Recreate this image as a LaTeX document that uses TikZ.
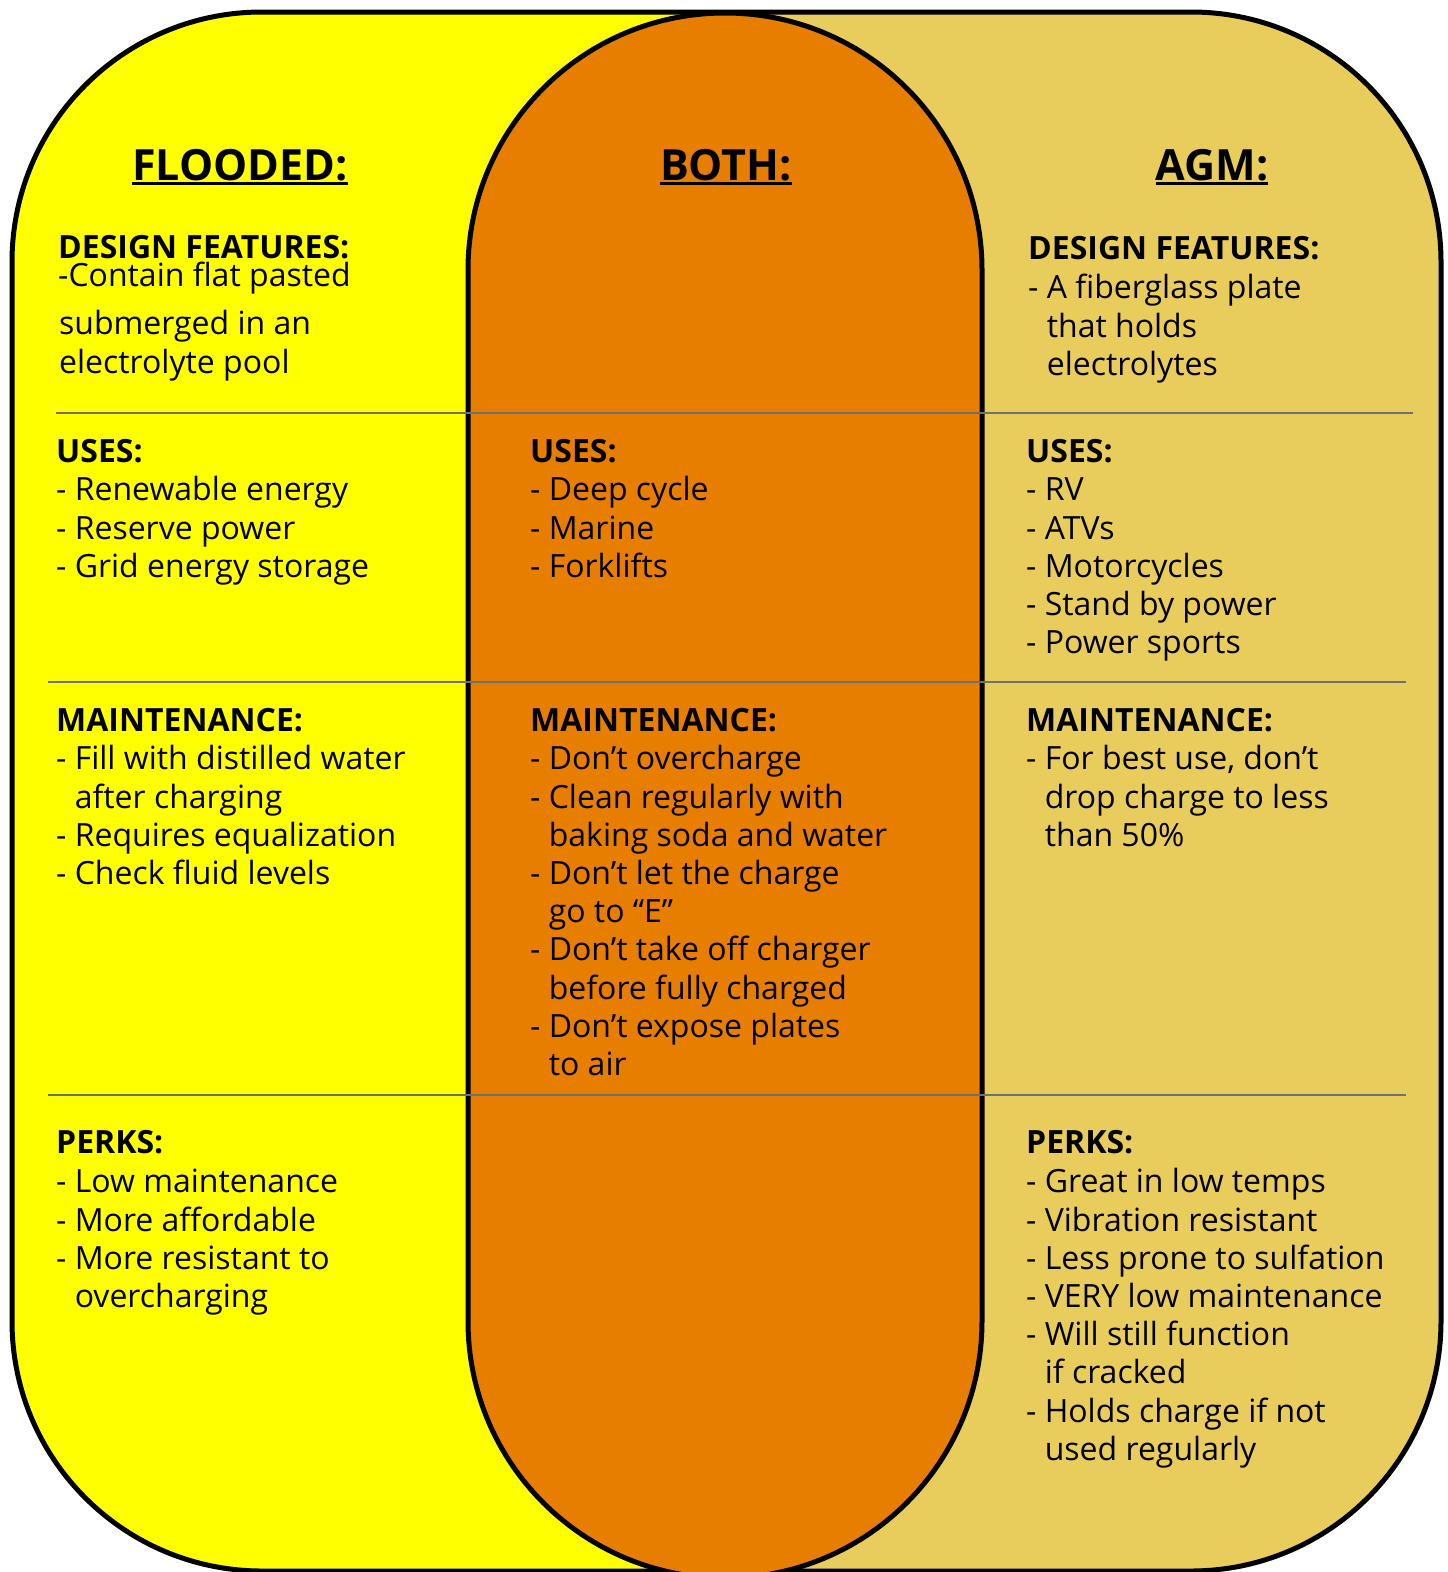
\documentclass[tikz,border=0pt]{standalone}
\usepackage{fontspec}
\setmainfont{Open Sans}
\usepackage{xcolor}
\usepackage{tikz}
\definecolor{floodyellow}{HTML}{FFFF00}
\definecolor{bothorange}{HTML}{E87E00}
\definecolor{agmtan}{HTML}{E8CC5C}
\definecolor{rulegray}{HTML}{707070}
\newcommand{\ind}{\hphantom{- }}
\newcommand{\headline}[1]{\setbox0=\hbox{#1}\rlap{\rule[-4.5pt]{\wd0}{2.6pt}}\box0}
\tikzset{
	colhead/.style={anchor=base, inner sep=0pt, font=\fontsize{43}{50}\selectfont\bfseries},
	subhead/.style={anchor=base west, inner sep=0pt, font=\fontsize{32}{38}\selectfont\bfseries},
	itemlist/.style={anchor=north west, yshift=26.6pt, inner sep=0pt, align=left, font=\fontsize{32}{38.2}\selectfont, execute at begin node=\strut},
	divider/.style={draw=rulegray, line width=2.5pt}
}
\begin{document}
\begin{tikzpicture}[x=1pt, y=-1pt]
	\useasboundingbox (0,0) rectangle (1448,1572);
	\clip (0,0) rectangle (1448,1572);
	\fill[agmtan, rounded corners=250pt] (12,12) rectangle (1441,1571);
	\begin{scope}
		\clip (0,0) rectangle (725,1572);
		\fill[floodyellow, rounded corners=250pt] (12,12) rectangle (1441,1571);
	\end{scope}
	\draw[line width=5pt, rounded corners=250pt] (12,12) rectangle (1441,1571);
	\draw[fill=bothorange, line width=5pt, rounded corners=257pt] (468,13) rectangle (982,1578);
	\draw[divider] (56,413) -- (1413,413);
	\draw[divider] (48,682) -- (1406,682);
	\draw[divider] (48,1095) -- (1406,1095);
	\node[colhead] at (240,180)(fltitle){\headline{FLOODED:}};
	\node[colhead] at (726,180)(bothtitle){\headline{BOTH:}};
	\node[colhead] at (1212,180)(agmtitle){\headline{AGM:}};
	\node[subhead] at (58,258)(fldesign){DESIGN FEATURES:};
	\node[itemlist] at (58,286)(fldesign1){-Contain flat pasted};
	\node[itemlist] at (59,337)(fldesign2){submerged in an\\electrolyte pool};
	\node[itemlist] at (1028,263)(agmdesign){\textbf{DESIGN FEATURES:}\\[1pt]- A fiberglass plate\\\ind that holds\\\ind electrolytes};
	\node[itemlist] at (56,466)(fluses){\textbf{USES:}\\- Renewable energy\\- Reserve power\\- Grid energy storage};
	\node[itemlist] at (530,466)(bothuses){\textbf{USES:}\\- Deep cycle\\- Marine\\- Forklifts};
	\node[itemlist] at (1026,466)(agmuses){\textbf{USES:}\\- RV\\- ATVs\\- Motorcycles\\- Stand by power\\- Power sports};
	\node[itemlist] at (56,735)(flmaint){\textbf{MAINTENANCE:}\\- Fill with distilled water\\\ind after charging\\- Requires equalization\\- Check fluid levels};
	\node[itemlist] at (530,735)(bothmaint){\textbf{MAINTENANCE:}\\- Don’t overcharge\\- Clean regularly with\\\ind baking soda and water\\- Don’t let the charge\\\ind go to “E”\\- Don’t take off charger\\\ind before fully charged\\- Don’t expose plates\\\ind to air};
	\node[itemlist] at (1026,735)(agmmaint){\textbf{MAINTENANCE:}\\- For best use, don’t\\\ind drop charge to less\\\ind than 50\%};
	\node[itemlist] at (56,1157)(flperks){\textbf{PERKS:}\\[1pt]- Low maintenance\\- More affordable\\- More resistant to\\\ind overcharging};
	\node[itemlist] at (1026,1157)(agmperks){\textbf{PERKS:}\\[1pt]- Great in low temps\\- Vibration resistant\\- Less prone to sulfation\\- VERY low maintenance\\- Will still function\\\ind if cracked\\- Holds charge if not\\\ind used regularly};
\end{tikzpicture}
\end{document}
